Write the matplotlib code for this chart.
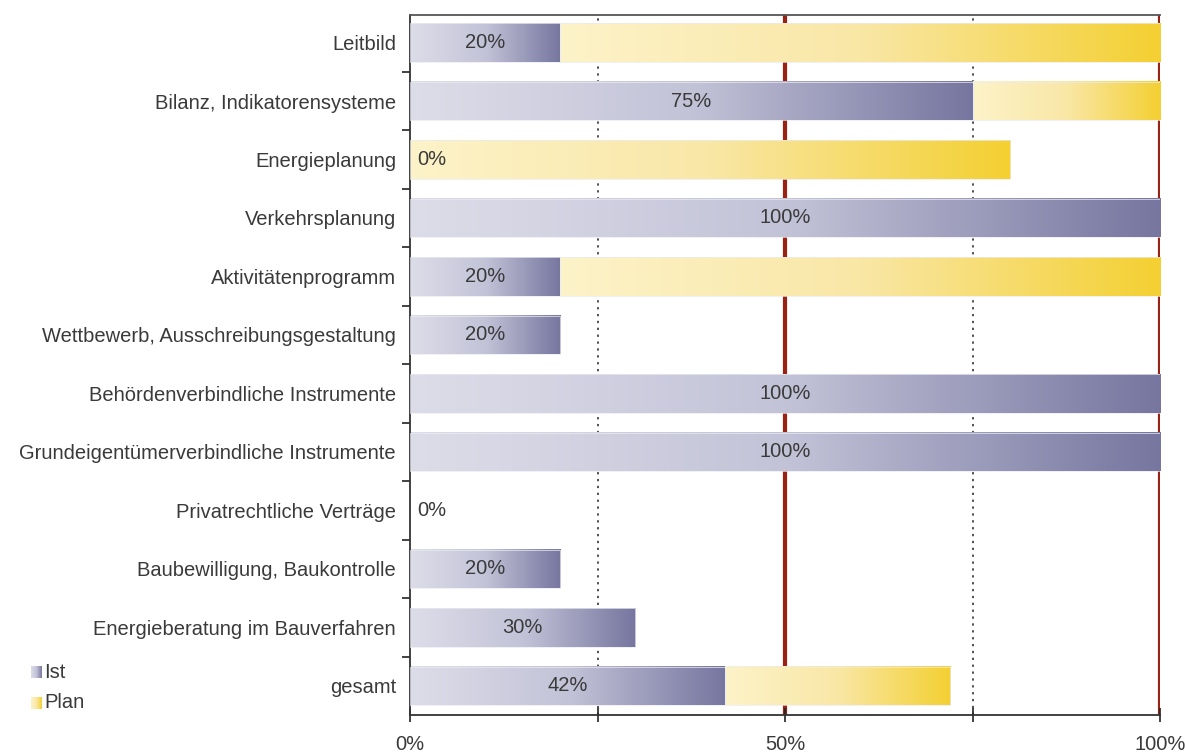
import numpy as np
import matplotlib.pyplot as plt
from matplotlib.colors import LinearSegmentedColormap
from matplotlib.patches import Rectangle

plt.rcParams['font.family'] = ['Liberation Sans', 'DejaVu Sans']

# Data
categories = [
    "Leitbild",
    "Bilanz, Indikatorensysteme",
    "Energieplanung",
    "Verkehrsplanung",
    "Aktivitätenprogramm",
    "Wettbewerb, Ausschreibungsgestaltung",
    "Behördenverbindliche Instrumente",
    "Grundeigentümerverbindliche Instrumente",
    "Privatrechtliche Verträge",
    "Baubewilligung, Baukontrolle",
    "Energieberatung im Bauverfahren",
    "gesamt",
]
ist = [20, 75, 0, 100, 20, 20, 100, 100, 0, 20, 30, 42]
plan = [80, 25, 80, 0, 80, 0, 0, 0, 0, 0, 0, 30]
xticks = [0, 25, 50, 75, 100]
xticklabels = ["0%", "", "50%", "", "100%"]

fs = 14.5
text_col = "#3a3a3a"
ist_cmap = LinearSegmentedColormap.from_list("ist", ["#dddde9", "#c3c3d8", "#7676a0"])
plan_cmap = LinearSegmentedColormap.from_list("plan", ["#fdf3c9", "#f9e7a6", "#f4d032"])
grad = np.linspace(0, 1, 256).reshape(1, -1)

fig = plt.figure(figsize=(11.85, 7.52), dpi=100)
ax = fig.add_axes([0.346, 0.049, 0.633, 0.931])

bar_h = 0.66


def grad_bar(ax, y, left, width, cmap):
    if width <= 0:
        return
    ext = (left, left + width, y + bar_h / 2, y - bar_h / 2)
    ax.imshow(grad, cmap=cmap, aspect="auto", extent=ext, zorder=2,
              interpolation="bilinear")
    ax.add_patch(Rectangle((left, y - bar_h / 2), width, bar_h, fill=False,
                           edgecolor="#ebebf1", lw=0.5, zorder=3))


for i, (a, p) in enumerate(zip(ist, plan)):
    grad_bar(ax, i, 0, a, ist_cmap)
    grad_bar(ax, i, a, p, plan_cmap)
    xpos = a / 2 if a > 0 else 1.0
    ha = "center" if a > 0 else "left"
    ax.text(xpos, i, f"{a}%", ha=ha, va="center", fontsize=fs,
            color=text_col, zorder=4)

# reference lines
for x in (25, 75):
    ax.axvline(x, color="#222222", lw=1.1, ls=(0, (1.5, 3)), zorder=1)
for x in (50, 100):
    ax.axvline(x, color="#9a2212", lw=3.0, zorder=1)

ax.set_xlim(0, 100)
ax.set_ylim(11.5, -0.47)

ax.set_yticks(range(len(categories)))
ax.set_yticklabels(categories, fontsize=fs, color=text_col)
ax.set_yticks(np.arange(0.5, len(categories) - 0.5, 1), minor=True)
ax.tick_params(axis="y", which="major", length=0, pad=10)
ax.tick_params(axis="y", which="minor", length=6, width=1.2, direction="out",
               color="#222222")

ax.set_xticks(xticks)
ax.set_xticklabels(xticklabels, fontsize=fs, color=text_col)
ax.tick_params(axis="x", length=10, width=1.2, direction="inout",
               color="#222222", pad=9)

ax.spines["right"].set_visible(False)
for s in ("left", "bottom", "top"):
    ax.spines[s].set_linewidth(1.3)
    ax.spines[s].set_color("#333333")
ax.spines["top"].set_color("#555555")

# legend with gradient swatches
leg = fig.add_axes([0, 0, 1, 1], facecolor="none")
leg.set_axis_off()
leg.set_xlim(0, 1185)
leg.set_ylim(752, 0)
for yy, cmap, name in ((672, ist_cmap, "Ist"), (703, plan_cmap, "Plan")):
    leg.imshow(grad, cmap=cmap, aspect="auto",
               extent=(31, 42, yy + 6, yy - 6), interpolation="bilinear")
    leg.text(44, yy, name, ha="left", va="center", fontsize=fs, color=text_col)

fig.savefig("out.png", dpi=100)
